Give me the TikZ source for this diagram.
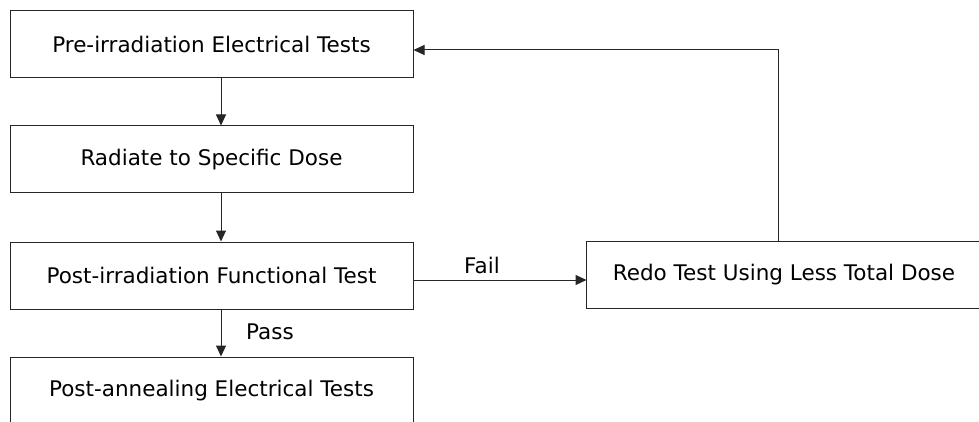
\documentclass[tikz,border=0pt]{standalone}
\usepackage{fontspec}
\setmainfont{DejaVu Sans}
\usetikzlibrary{arrows.meta}
\begin{document}
\begin{tikzpicture}[x=1pt,y=-1pt,
  font=\fontsize{21.5}{25}\selectfont,
  stepbox/.style={draw=black!85, line width=1pt, rectangle, inner sep=0pt,
    minimum width=403pt, minimum height=67pt, text=black},
  edge/.style={draw=black!85, line width=1pt},
  link/.style={edge, -{Triangle[length=11pt,width=10pt]}},
  tag/.style={anchor=base, inner sep=0pt, text=black}]
\useasboundingbox (0,0) rectangle (979,422);
\clip (0,0) rectangle (979,422);
% main column of steps
\node[stepbox] (pre)  at (211.5,44.5)  {Pre-irradiation Electrical Tests};
\node[stepbox] (rad)  at (211.5,159.5) {Radiate to Specific Dose};
\node[stepbox] (func) at (211.5,275.5) {Post-irradiation Functional Test};
\node[stepbox] (post) at (211.5,390.5) {Post-annealing Electrical Tests};
% retry branch; its right side runs past the page edge
\node[stepbox, draw=none, minimum width=402pt, minimum height=66pt] (redo) at (788,275) {Redo Test Using Less Total Dose\hspace*{8pt}};
\draw[edge] (redo.north east) -- (redo.north west) -- (redo.south west) -- (redo.south east);
% connectors
\draw[link] ([xshift=9.5pt]pre.south) -- ([xshift=9.5pt]rad.north);
\draw[link] ([xshift=9.5pt]rad.south) -- ([xshift=9.5pt]func.north);
\draw[link] ([xshift=9.5pt]func.south) -- ([xshift=9.5pt]post.north);
\draw[link] ([yshift=-4.5pt]func.east) -- ([yshift=-5pt]redo.west);
\draw[link] ([xshift=-10pt]redo.north) |- ([yshift=-5.5pt]pre.east);
% branch labels
\node[tag] (fail) at (482,273) {Fail};
\node[tag] (pass) at (270,339) {Pass};
\end{tikzpicture}
\end{document}
